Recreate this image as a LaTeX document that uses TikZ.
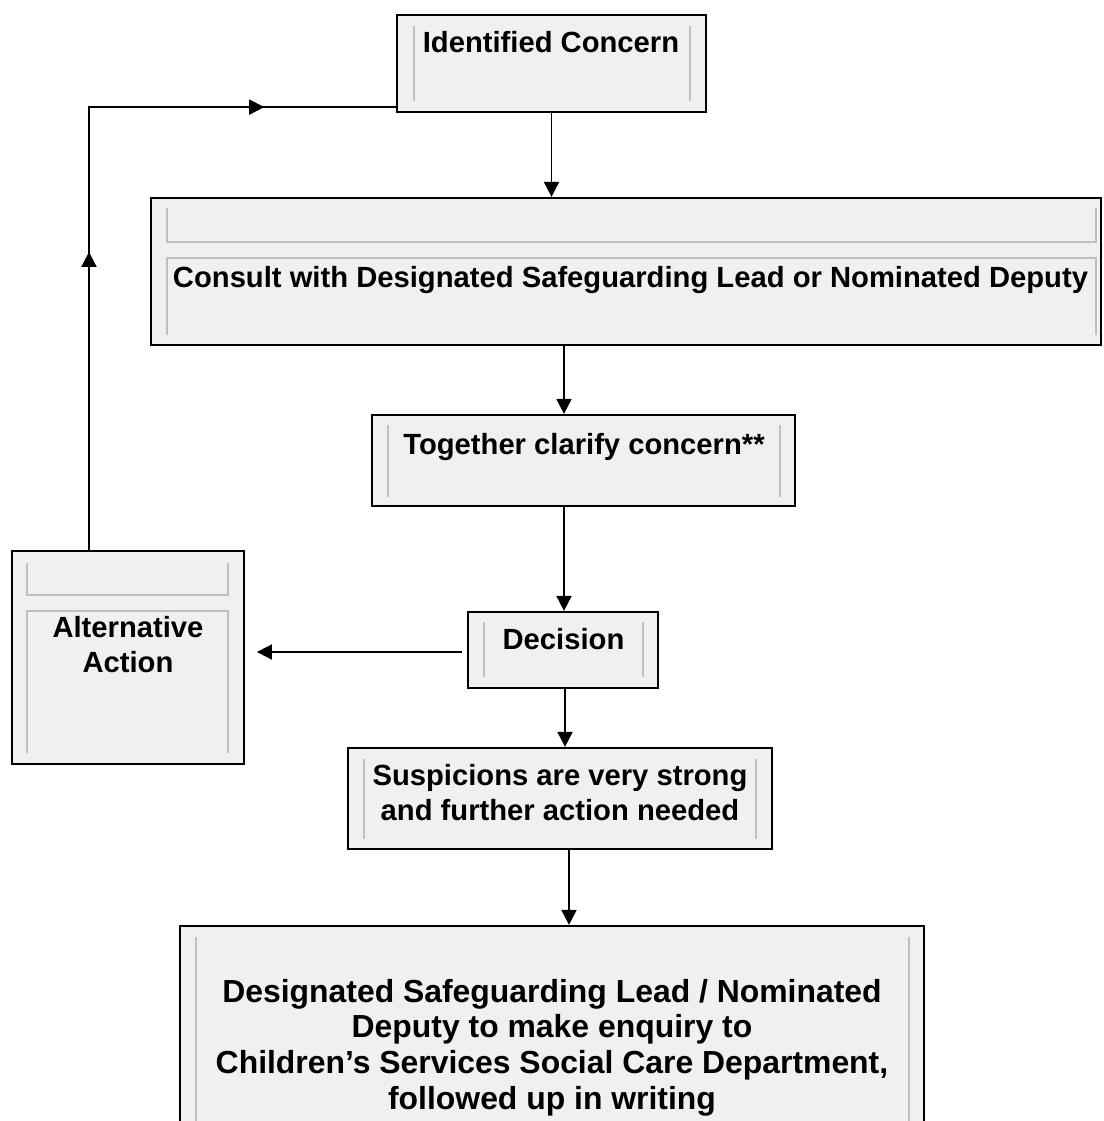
\documentclass[tikz,border=0pt]{standalone}
\usepackage{fontspec}
\setmainfont{Liberation Sans}
\usetikzlibrary{arrows.meta,decorations.markings}
\begin{document}
\begin{tikzpicture}[x=1pt,y=-1pt,
  box/.style={draw=black,line width=2.2pt,fill=black!6,inner sep=0pt},
  inner/.style={draw=black!25,line width=1.3pt},
  txt/.style={font=\bfseries\fontsize{29.2}{35}\selectfont,inner sep=0pt,align=center,anchor=base},
  bigtxt/.style={txt,font=\bfseries\fontsize{31.9}{35.6}\selectfont},
  arr/.style={line width=1.8pt,-{Triangle[length=15pt,width=15pt]}},
  conn/.style={line width=1.8pt}]
\clip (0,0) rectangle (1103,1121);
\fill[white] (0,0) rectangle (1103,1121);
% boxes
\node[box,minimum width=309pt,minimum height=97pt] (ident) at (551.5,63.5) {};
\node[box,minimum width=950pt,minimum height=147pt] (consult) at (626,271.5) {};
\node[box,minimum width=423pt,minimum height=91pt] (together) at (583.5,460.5) {};
\node[box,minimum width=190pt,minimum height=76pt] (decision) at (563,650) {};
\node[box,minimum width=424pt,minimum height=101pt] (susp) at (560,798.5) {};
\node[box,minimum width=744pt,minimum height=214pt] (final) at (552,1033) {};
\node[box,minimum width=232pt,minimum height=213pt] (alt) at (128,657.5) {};
% inner frames
\draw[inner] (414,26) -- (414,101) (690,26) -- (690,101);
\draw[inner] (167,208) -- (167,242) -- (1096,242) -- (1096,208);
\draw[inner] (167,335) -- (167,258) -- (1096,258) -- (1096,335);
\draw[inner] (388,425) -- (388,497) (780,425) -- (780,497);
\draw[inner] (484,622) -- (484,677) (643,622) -- (643,677);
\draw[inner] (364,759) -- (364,839) (756,759) -- (756,839);
\draw[inner] (196,937) -- (196,1125) (909,937) -- (909,1125);
\draw[inner] (27,563) -- (27,595) -- (228,595) -- (228,563);
\draw[inner] (27,753) -- (27,611) -- (228,611) -- (228,753);
% texts (base anchor = baseline of the last line)
\node[txt] (tident) at (551,53) {Identified Concern};
\node[txt] (tconsult) at (630.5,287) {Consult with Designated Safeguarding Lead or Nominated Deputy};
\node[txt] (ttogether) at (584,454) {Together clarify concern**};
\node[txt] (tdecision) at (563.5,649) {Decision};
\node[txt] (tsusp) at (560,820) {Suspicions are very strong\\and further action needed};
\node[bigtxt] (tfinal) at (552,1109) {Designated Safeguarding Lead / Nominated\\Deputy to make enquiry to\\Children’s Services Social Care Department,\\followed up in writing};
\node[txt] (talt) at (128,672) {Alternative\\Action};
% connectors
\coordinate (xa) at (564,0);
\coordinate (xb) at (565,0);
\coordinate (xc) at (569,0);
\coordinate (xl) at (89,0);
\draw[arr] (ident.south) -- (consult.north -| ident.south);
\draw[arr] (consult.south -| xa) -- (together.north -| xa);
\draw[arr] (together.south -| xa) -- (decision.north -| xa);
\draw[arr] (decision.south -| xb) -- (susp.north -| xb);
\draw[arr] (susp.south -| xc) -- (final.north -| xc);
\draw[arr] ([xshift=-5pt,yshift=-2pt]decision.west) -- ([xshift=-210pt,yshift=-2pt]decision.west);
\draw[conn,postaction={decorate},decoration={markings,
   mark=at position 298pt with {\arrow{Triangle[length=15pt,width=15pt]}},
   mark=at position 618pt with {\arrow{Triangle[length=15pt,width=15pt]}}}]
  (alt.north -| xl) |- ([yshift=6pt]ident.south west);
\end{tikzpicture}
\end{document}
